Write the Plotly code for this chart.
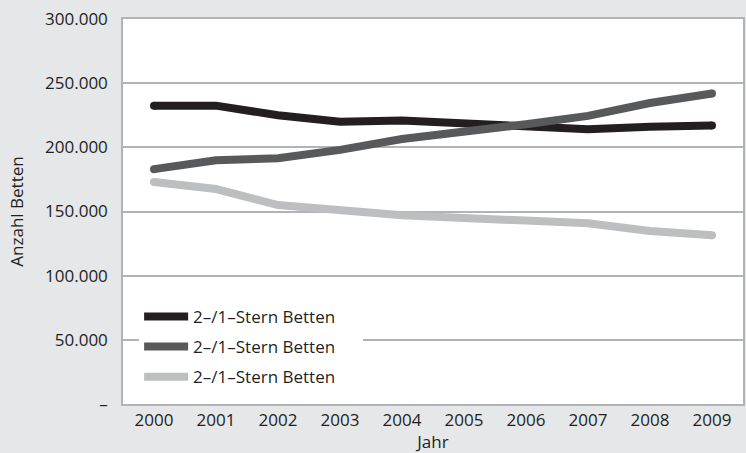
import plotly.graph_objects as go

# Bettenzahlen nach Jahr
jahre = [2000, 2001, 2002, 2003, 2004, 2005, 2006, 2007, 2008, 2009]
serie_schwarz = [232500, 232500, 225000, 220000, 221000, 218500, 215000, 214000, 216000, 217000]
serie_dunkel = [183000, 190000, 191500, 198000, 206500, 211500, 218000, 224500, 234500, 242000]
serie_hell = [173000, 167500, 155000, 150300, 147000, 145000, 143300, 140800, 134800, 131500]
namen = ["2–/1–Stern Betten", "2–/1–Stern Betten", "2–/1–Stern Betten"]

y_ticks = [0, 50000, 100000, 150000, 200000, 250000, 300000]
y_ticktext = ["–", "50.000", "100.000", "150.000", "200.000", "250.000", "300.000"]

farben = ["#231f20", "#58595b", "#bcbec0"]
BG = "#e6e7e8"
GRID = "#b1b3b6"
TEXT = "#231f20"
FONT = "Open Sans"
FS = 17
# Leerraum rechts im Legendenkasten
LEGENDE_RAND = "\u00a0" * 5

fig = go.Figure()
for i, (name, werte, farbe) in enumerate(zip(namen, [serie_schwarz, serie_dunkel, serie_hell], farben)):
    fig.add_trace(go.Scatter(
        x=jahre, y=werte, name=name + LEGENDE_RAND, mode="lines", legendgroup=f"g{i}",
        line=dict(color=farbe, width=8),
    ))
    # runde Linienenden
    fig.add_trace(go.Scatter(
        x=[jahre[0], jahre[-1]], y=[werte[0], werte[-1]],
        mode="markers", showlegend=False, hoverinfo="skip", legendgroup=f"g{i}",
        marker=dict(color=farbe, size=8, line=dict(width=0)),
    ))

fig.update_layout(
    width=746, height=453,
    margin=dict(l=123, r=1, t=19, b=47),
    paper_bgcolor=BG,
    plot_bgcolor="white",
    font=dict(family=FONT, size=FS, color=TEXT),
    showlegend=True,
    legend=dict(
        x=0.026, y=0.273, xanchor="left", yanchor="top",
        bgcolor="white", borderwidth=0,
        font=dict(family=FONT, size=FS, color=TEXT),
        tracegroupgap=5, itemwidth=44,
    ),
    xaxis=dict(
        range=[1999.5, 2009.5],
        tickvals=jahre,
        ticktext=[str(j) for j in jahre],
        showgrid=False, zeroline=False,
        showline=True, linecolor=GRID, linewidth=1.5, mirror=True,
        ticks="", ticklabelstandoff=0,
        title=dict(text="Jahr", standoff=9, font=dict(size=FS)),
        tickfont=dict(size=FS),
    ),
    yaxis=dict(
        range=[0, 300000],
        tickvals=y_ticks, ticktext=y_ticktext,
        showgrid=True, gridcolor=GRID, gridwidth=1.5,
        zeroline=False,
        showline=True, linecolor=GRID, linewidth=1.5, mirror=True,
        ticks="", ticklabelstandoff=10,
        title=dict(text="Anzahl Betten", standoff=17, font=dict(size=FS)),
        tickfont=dict(size=FS),
    ),
)

fig.write_html("out.html")
